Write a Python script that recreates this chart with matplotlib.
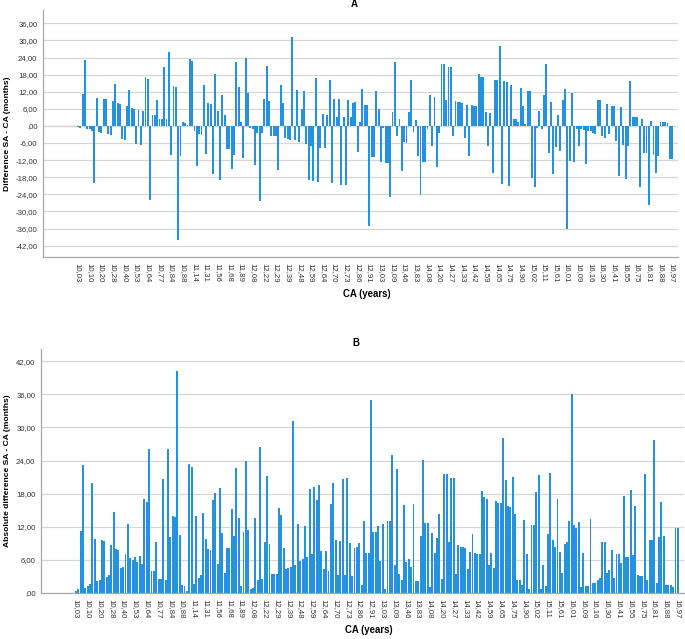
import numpy as np
import matplotlib
matplotlib.use("Agg")
import matplotlib.pyplot as plt

plt.rcParams['font.family'] = ['Liberation Sans', 'DejaVu Sans']

# difference SA - CA (months), one value per child, ordered by CA
diff = [-0.3, -0.8, 11.3, 23.2, -0.9, -1.2, -1.6, -20.0, 9.8, -2.2,
        -2.4, 9.6, 9.5, -2.9, -3.3, 8.7, 14.6, 8.0, 7.8, -4.6,
        -4.8, 7.1, 12.5, 6.3, 5.9, -6.5, 5.7, -6.7, 5.2, 17.1,
        16.5, -26.0, 4.0, 3.9, 9.2, 2.6, 2.6, 20.7, 2.3, 26.0,
        -10.2, 14.0, 13.8, -40.2, -10.5, 1.4, 1.2, 0.3, 23.4, 22.9,
        -1.6, -14.0, -2.8, -3.2, 14.5, -9.8, 7.9, 7.8, -16.8, 18.2,
        5.3, -19.0, 10.8, 3.7, -8.2, -8.2, -15.2, -10.3, 22.6, 13.5,
        1.3, -11.1, 24.0, 11.5, -0.8, -0.9, -13.6, -2.4, -26.5, -2.6,
        9.3, 21.2, 8.9, -3.4, -3.5, -3.5, -15.4, 14.2, 8.1, -4.4,
        -4.6, -4.8, 31.2, -5.0, 12.5, -5.8, 6.1, 12.1, -6.5, -18.8,
        -7.1, -19.2, 16.8, -19.5, -7.6, 4.3, -7.6, 4.0, 16.1, -20.0,
        9.6, 3.3, 9.4, -20.7, 3.3, -20.8, 9.1, 3.0, 8.1, 8.3,
        -9.0, 1.4, 13.0, 7.2, 7.2, -35.0, -11.0, -11.0, 12.2, 5.8,
        -12.5, -0.8, -13.0, -13.0, -25.0, 5.0, 22.5, -3.5, 2.4, -15.9,
        -5.7, -6.1, 4.8, 16.1, -2.1, 2.1, -10.4, -24.1, -12.7, -12.7,
        -1.0, 10.9, -7.2, 10.0, -14.3, -2.5, 21.6, 21.6, 9.2, 20.8,
        20.8, -3.4, 8.7, 8.4, 8.3, 8.1, -4.3, 7.5, -10.7, 7.3,
        7.0, 7.0, 18.4, 17.3, 17.1, 5.0, -7.2, 4.5, -16.6, 16.3,
        16.3, 28.0, -20.4, 15.7, 15.6, -21.1, 14.4, 2.3, 2.3, 1.4,
        13.2, 7.0, 0.7, 12.3, 12.3, -18.3, -21.3, -0.7, 5.1, -1.2,
        10.7, 21.8, -9.6, 8.3, -17.0, -7.4, 3.7, -8.9, 9.2, 13.1,
        -36.1, -12.3, 11.7, -12.8, -1.0, -7.2, -1.2, -1.3, -13.4, -1.9,
        -1.9, -2.3, -2.8, 9.2, 9.2, -3.7, -4.2, 7.8, -2.8, 7.1,
        7.1, -5.4, -17.5, 6.5, -6.6, -18.7, -6.9, 15.7, 3.3, 3.0,
        3.0, -21.5, 2.4, -9.6, -9.6, -27.8, 1.9, -10.2, -16.4, -10.4,
        1.4, 1.4, 1.4, 1.0, -11.7, -11.7]

# CA labels shown on the axis (every 5th case)
ca_labels = ["10,03", "10,10", "10,20", "10,28", "10,40", "10,53", "10,64", "10,77",
             "10,84", "10,88", "11,14", "11,31", "11,56", "11,68", "11,89", "12,08",
             "12,22", "12,29", "12,39", "12,48", "12,59", "12,64", "12,70", "12,73",
             "12,86", "12,91", "13,03", "13,09", "13,46", "13,83", "14,08", "14,20",
             "14,27", "14,33", "14,42", "14,59", "14,65", "14,75", "14,90", "15,02",
             "15,11", "15,61", "16,01", "16,09", "16,16", "16,30", "16,41", "16,55",
             "16,75", "16,81", "16,88", "16,97"]
label_step = 5

diff = np.array(diff)
absdiff = np.abs(diff)
x = np.arange(len(diff))

blue = "#2592e0"
grid_c = "#d6d6d6"


def fmt(v):
    s = ("%.2f" % v).replace(".", ",")
    return ",00" if v == 0 else s


fig = plt.figure(figsize=(6.85, 6.39), dpi=100)
ax1 = fig.add_axes([43/685, 1-257/639, 635/685, 247/639])
ax2 = fig.add_axes([41/685, 1-593/639, 643/685, 244/639])


def style(ax, yticks, ylim, title, ylabel, lab_x):
    ax.set_axisbelow(True)
    ax.set_ylim(*ylim)
    ax.set_yticks(yticks)
    ax.set_yticklabels([fmt(v) for v in yticks], fontsize=5.6, color="#333333")
    ax.yaxis.grid(True, color=grid_c, lw=0.9)
    ax.set_xticks(np.arange(0, len(diff), label_step))
    ax.set_xticklabels(ca_labels, rotation=-90, fontsize=5.6, color="#333333")
    ax.tick_params(axis="both", length=0, pad=4)
    for s in ["top", "right"]:
        ax.spines[s].set_visible(False)
    for s in ["left", "bottom"]:
        ax.spines[s].set_color("#a8a8a8")
        ax.spines[s].set_linewidth(0.9)
    ax.set_title(title, fontsize=7, fontweight="bold", pad=2, x=0.49)
    ax.set_ylabel(ylabel, fontsize=6.1, fontweight="bold")
    ax.yaxis.set_label_coords(lab_x, 0.5)
    ax.set_xlabel("CA (years)", fontsize=6.9, fontweight="bold", labelpad=5, x=0.51)


ax1.bar(x, diff, width=0.82, color=blue)
ax1.axhline(0, color=grid_c, lw=0.9, zorder=0)
ax1.set_xlim(-15, 257.5)
style(ax1, np.arange(-42, 37, 6), (-46, 40.7), "A", "Difference SA - CA (months)", -0.050)

ax2.bar(x, absdiff, width=0.82, color=blue)
ax2.set_xlim(-14.8, 257.6)
style(ax2, np.arange(0, 43, 6), (0, 44.2), "B", "Absolute difference SA - CA (months)", -0.047)

fig.savefig("out.png", dpi=100)
